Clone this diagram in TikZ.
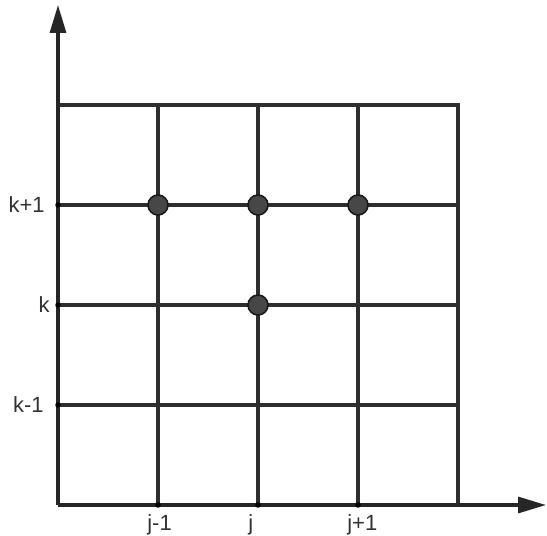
\documentclass[tikz,border=0pt]{standalone}
\usepackage{fontspec}
\setmainfont{Liberation Sans}
\usetikzlibrary{arrows.meta}

\begin{document}
\begin{tikzpicture}[
  x=2cm, y=2cm,
  gridline/.style={line width=1.8pt, draw=black!82},
  axis/.style={line width=1.8pt, draw=black!85,
               -{Triangle[length=5.6mm, width=3.2mm]}},
  point/.style={circle, draw=black!90, line width=0.9pt, fill=black!72,
                minimum size=4mm, inner sep=0pt},
  tick/.style={circle, fill=black, minimum size=1.1mm, inner sep=0pt},
  lbl/.style={font=\fontsize{12.5}{14}\selectfont, text=black!80, inner sep=0pt},
]
\useasboundingbox (-0.58,-0.30) rectangle (4.89,5.05);

% Axes
\coordinate (origin) at (0,0);
\coordinate (ytop)   at (0,5.0);
\coordinate (xend)   at (4.88,0);

% Grid
\draw[gridline] (0,4) -- (4,4) -- (4,0);
\draw[gridline] (0,3) -- (4,3);
\draw[gridline] (0,2) -- (4,2);
\draw[gridline] (0,1) -- (4,1);
\draw[gridline] (1,0) -- (1,4);
\draw[gridline] (2,0) -- (2,4);
\draw[gridline] (3,0) -- (3,4);

\draw[axis] (origin) -- (ytop);
\draw[axis] (origin) -- (xend);

% Ticks on the axes
\node[tick] (tk1) at (0,3) {};
\node[tick] (tk0) at (0,2) {};
\node[tick] (tkm) at (0,1) {};
\node[tick] (tjm) at (1,0) {};
\node[tick] (tj0) at (2,0) {};
\node[tick] (tj1) at (3,0) {};

% Labels
\node[lbl, anchor=east] at (-0.13,3) (lk1) {k+1};
\node[lbl, anchor=east] at (-0.08,2) (lk0) {k};
\node[lbl, anchor=east] at (-0.14,1) (lkm) {k-1};
\node[lbl, anchor=north west] at (0.89,-0.09) (ljm) {j-1};
\node[lbl, anchor=north west] at (1.90,-0.09) (lj0) {j};
\node[lbl, anchor=north west] at (2.89,-0.09) (lj1) {j+1};

% Stencil points
\node[point] (pjm) at (1,3) {};
\node[point] (pj0) at (2,3) {};
\node[point] (pj1) at (3,3) {};
\node[point] (pk)  at (2,2) {};
\end{tikzpicture}
\end{document}
